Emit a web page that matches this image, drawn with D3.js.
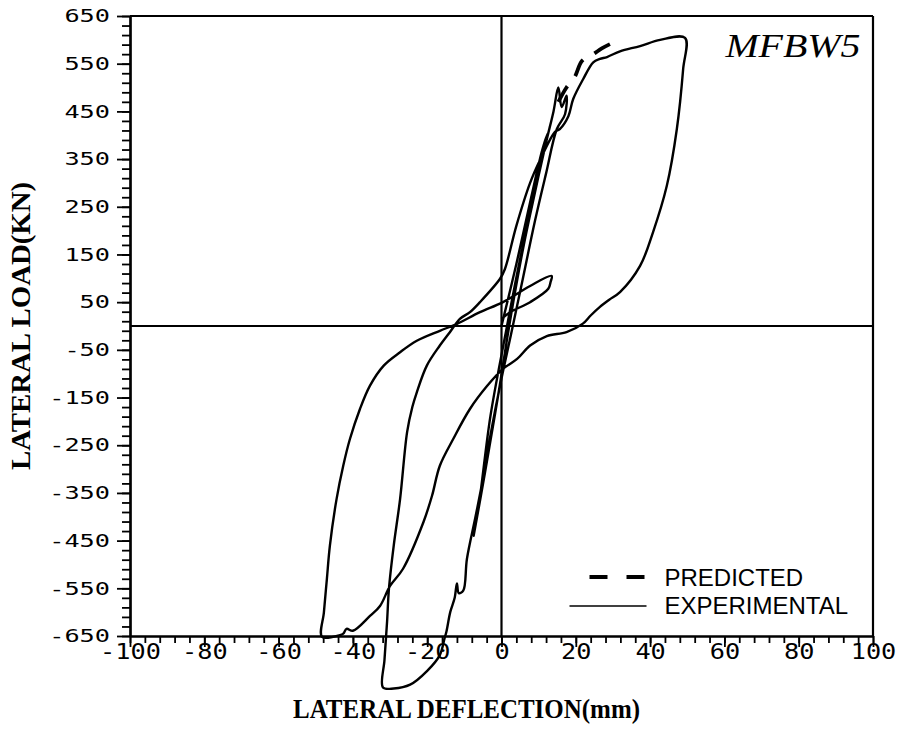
<!DOCTYPE html>
<html lang="en">
<head>
  <meta charset="UTF-8">
  <title>MFBW5 lateral load - deflection</title>
  <script src="https://d3js.org/d3.v7.min.js"></script>
  <style>
    body { margin: 0; background: #fff; }
  </style>
</head>
<body>
  <div id="viz"></div>

  <script>
    // Tick labels
    const xTicks = [-100, -80, -60, -40, -20, 0, 20, 40, 60, 80, 100];
    const yTicks = [650, 550, 450, 350, 250, 150, 50, -50, -150, -250, -350, -450, -550, -650];

    // Experimental hysteresis, deflection (mm) / load (kN), in test order
    const expDeflection = [
      0, 4, 8, 11, 12.5, 9.5, 5, 1, -3, -6, -7.5, -4.5, -1, 2.5, 6, 9, 12, 14, 15.3, 16.2, 17.5, 17.1,
      14.9, 12, 9, 5.5, 2.5, 0, -3, -5, -7, -9.3, -10.3, -11.5, -12, -12.6, -13.8, -14.8, -15.3, -16.6,
      -20, -24.6, -29, -31.9,
      -31.5, -30.8, -30.3, -29, -27.3, -25.4, -24, -22.8, -20.1, -16.6, -13.9, -11.2, -8.5, -5.8, -0.4,
      0.9, 4, 7.7, 10.5, 14.4, 15.7, 18, 19.3, 22, 24.7, 26.5, 28.4, 31.9, 37.3, 42.7, 49.4,
      48.9, 47.2, 44.5, 40.8, 37.3, 31.9, 29, 26.5, 24, 21.9, 17.5, 12.2, 7.7, 4.2, 0.4, -3.9, -8.5, -13, -16.6, -18.7,
      -21, -26.5, -30, -32.7, -35.4, -40, -41.7, -42.6, -43.5, -48.3,
      -47.8, -47, -46.2, -44.4, -42.6, -40.8, -38.1, -35.4, -31.7, -27.3, -22.8, -16.6, -12.1, -5.8,
      0.4, 7.7, 13.5,
      13.2, 12.6, 7.7, 2.3, 0
    ];
    const expLoad = [
      0, 130, 270, 370, 405, 300, 140, -20, -190, -370, -440, -310, -150, 20, 170, 280, 385, 450, 500, 459, 483, 444,
      413, 320, 220, 90, -20, -110, -230, -321, -400, -488, -555, -560, -540, -570, -600, -640, -654, -690,
      -723, -752, -760, -758,
      -700, -620, -551, -460, -363, -222, -170, -139, -83, -41, -13, 15, 29, 50, 99,
      119, 210, 300, 350, 407, 413, 440, 476, 518, 553, 560, 564, 576, 587, 600, 604,
      539, 413, 294, 197, 126, 71, 55, 40, 22, 5, -13, -21, -41, -69, -90, -126, -174, -237, -293, -356,
      -411, -509, -545, -587, -608, -639, -635, -645, -648, -652,
      -600, -530, -461, -363, -293, -237, -174, -125, -83, -55, -31, -10, 4, 29,
      50, 84, 105,
      92, 78, 50, 29, 15
    ];

    // Predicted response (visible part)
    const predDeflection = [15.3, 17.5, 19.7, 21.7, 24.7, 27, 29.2];
    const predLoad = [470, 500, 522, 556, 570, 582, 591];

    const legendLabels = ['PREDICTED', 'EXPERIMENTAL'];
    const specimen = 'MFBW5';

    // Dimensions
    const actualWidth = 903, actualHeight = 732;
    const margin = { top: 16, right: 30, bottom: 96, left: 130 },
          width = actualWidth - margin.left - margin.right,
          height = actualHeight - margin.top - margin.bottom;

    const root = d3.select('#viz')
      .append('svg')
        .attr('width', actualWidth)
        .attr('height', actualHeight);
    const svg = root.append('g')
        .attr('transform', `translate(${margin.left}, ${margin.top})`);

    const x = d3.scaleLinear().domain([-100, 100]).range([0, width]);
    const y = d3.scaleLinear().domain([-650, 650]).range([height, 0]);

    const fmt = d => d < 0 ? '-' + (-d) : String(d);
    const mono = 'DejaVu Sans Mono, monospace';

    // x axis: minor then major ticks
    svg.append('g')
      .attr('transform', `translate(0, ${height})`)
      .call(d3.axisBottom(x).tickValues(d3.range(-100, 101, 4)).tickSize(7).tickSizeOuter(0).tickFormat(''));
    const xAx = svg.append('g')
      .attr('transform', `translate(0, ${height})`)
      .call(d3.axisBottom(x).tickValues(xTicks).tickSize(11).tickSizeOuter(0).tickPadding(-4).tickFormat(fmt));
    xAx.selectAll('text')
      .attr('font-family', mono)
      .attr('font-size', 22)
      .attr('textLength', d => fmt(d).length * 15.2)
      .attr('lengthAdjust', 'spacingAndGlyphs');

    // y axis
    svg.append('g')
      .call(d3.axisLeft(y).tickValues(d3.range(-650, 651, 20)).tickSize(8).tickSizeOuter(0).tickFormat(''));
    const yAx = svg.append('g')
      .call(d3.axisLeft(y).tickValues(yTicks).tickSize(13).tickSizeOuter(0).tickPadding(7).tickFormat(fmt));
    yAx.selectAll('text')
      .attr('font-family', mono)
      .attr('font-size', 18)
      .attr('textLength', d => fmt(d).length * 15.2)
      .attr('lengthAdjust', 'spacingAndGlyphs');

    svg.selectAll('.domain').attr('stroke-width', 2.2);
    svg.selectAll('.tick line').attr('stroke-width', 1.8);

    // frame and zero lines
    const frame = svg.append('g').attr('stroke', '#000').attr('stroke-width', 2.2);
    frame.append('line').attr('x1', x(-100)).attr('x2', x(100)).attr('y1', y(650)).attr('y2', y(650));
    frame.append('line').attr('x1', x(100)).attr('x2', x(100)).attr('y1', y(650)).attr('y2', y(-650));
    frame.append('line').attr('x1', x(-100)).attr('x2', x(100)).attr('y1', y(0)).attr('y2', y(0));
    frame.append('line').attr('x1', x(0)).attr('x2', x(0)).attr('y1', y(650)).attr('y2', y(-650));

    const line = d3.line()
      .x(d => x(d[0]))
      .y(d => y(d[1]))
      .curve(d3.curveCatmullRom.alpha(0.5));

    svg.append('path')
      .datum(d3.zip(expDeflection, expLoad))
      .attr('d', line)
      .attr('fill', 'none')
      .attr('stroke', '#000')
      .attr('stroke-width', 2.4)
      .attr('stroke-linejoin', 'round');

    svg.append('path')
      .datum(d3.zip(predDeflection, predLoad))
      .attr('d', line)
      .attr('fill', 'none')
      .attr('stroke', '#000')
      .attr('stroke-width', 3.8)
      .attr('stroke-dasharray', '18,13');

    // specimen label
    svg.append('text')
      .attr('x', x(60) + 1)
      .attr('y', y(650) + 41)
      .attr('font-family', 'Liberation Serif, serif')
      .attr('font-style', 'italic')
      .attr('font-size', 34)
      .attr('textLength', 135)
      .attr('lengthAdjust', 'spacingAndGlyphs')
      .text(specimen);

    // legend
    const legend = svg.append('g').attr('transform', `translate(${x(0) + 68}, ${height - 68})`);
    legend.append('line')
      .attr('x1', 20).attr('x2', 75).attr('y1', 9).attr('y2', 9)
      .attr('stroke', '#000').attr('stroke-width', 3.8).attr('stroke-dasharray', '18,19');
    legend.append('line')
      .attr('x1', 0).attr('x2', 77).attr('y1', 38).attr('y2', 38)
      .attr('stroke', '#000').attr('stroke-width', 1.6);
    legend.selectAll('text.lg')
      .data(legendLabels)
      .enter()
      .append('text')
        .attr('class', 'lg')
        .attr('x', 95)
        .attr('y', (d, i) => 18 + i * 28)
        .attr('font-family', 'Liberation Sans, sans-serif')
        .attr('font-size', 24)
        .text(d => d);

    // axis titles
    root.append('text')
      .attr('transform', `translate(30, ${margin.top + y(0)}) rotate(-90)`)
      .attr('text-anchor', 'middle')
      .attr('font-family', 'Liberation Serif, serif')
      .attr('font-weight', 'bold')
      .attr('font-size', 27)
      .attr('textLength', 288)
      .attr('lengthAdjust', 'spacingAndGlyphs')
      .text('LATERAL LOAD(KN)');

    root.append('text')
      .attr('x', 293)
      .attr('y', 718)
      .attr('font-family', 'Liberation Serif, serif')
      .attr('font-weight', 'bold')
      .attr('font-size', 27)
      .attr('textLength', 347)
      .attr('lengthAdjust', 'spacingAndGlyphs')
      .text('LATERAL DEFLECTION(mm)');
  </script>
</body>
</html>
